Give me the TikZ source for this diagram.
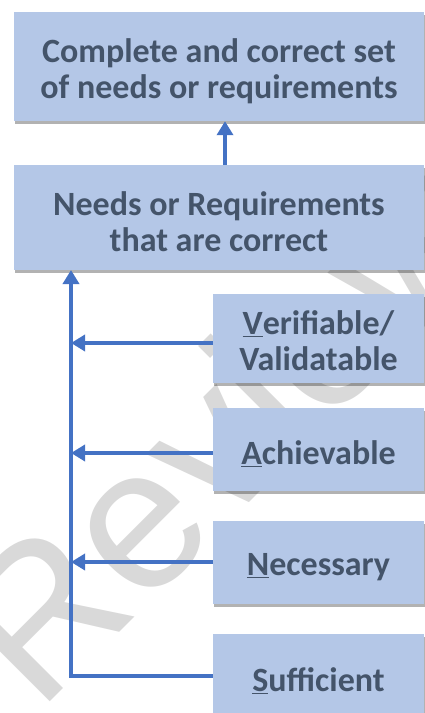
\documentclass[tikz,border=0pt]{standalone}
\usepackage{fontspec}
\setmainfont{Carlito}
\newfontfamily\wmfont{Liberation Sans}
\usetikzlibrary{arrows.meta,shadows}
\definecolor{boxfill}{HTML}{B4C7E7}
\definecolor{boxtext}{HTML}{44546A}
\definecolor{arrowblue}{HTML}{4472C4}
\definecolor{wmgray}{HTML}{D9D9D9}
\begin{document}
\begin{tikzpicture}[x=1pt,y=1pt,
  box/.style={rectangle, fill=boxfill, draw=none, inner sep=0pt,
    drop shadow={shadow xshift=0.8pt, shadow yshift=-3pt, fill=black, opacity=0.3}},
  boxlabel/.style={yshift=-4.5pt, align=center, inner sep=0pt, text=boxtext,
    font=\bfseries\fontsize{34}{36}\selectfont},
  bigbox/.style={box, minimum width=410pt},
  smallbox/.style={box, minimum width=211pt},
  link/.style={draw=arrowblue, line width=4pt, -{Triangle[length=14pt,width=16pt]}}
]
\useasboundingbox (0,0) rectangle (425,-713);
\clip (0,0) rectangle (425,-713);
\node[text=wmgray, rotate=45, inner sep=0pt, font=\wmfont\fontsize{202}{202}\selectfont] (wm) at (222,-428) {Review};

\node[bigbox, minimum height=109pt,
  label={[boxlabel]center:{Complete and correct set\\of needs or requirements}}] (b1) at (219,-66.5) {};
\node[bigbox, minimum height=105pt,
  label={[boxlabel]center:{Needs or Requirements\\that are correct}}] (b2) at (219,-217.5) {};
\node[smallbox, minimum height=89pt,
  label={[boxlabel,yshift=2pt]center:{\underline{V}erifiable/\\Validatable}}] (v) at (318.5,-338.5) {};
\node[smallbox, minimum height=83pt,
  label={[boxlabel]center:{\underline{A}chievable}}] (a) at (318.5,-449.5) {};
\node[smallbox, minimum height=83pt,
  label={[boxlabel]center:{\underline{N}ecessary}}] (n) at (318.5,-562.5) {};
\node[smallbox, minimum height=84pt,
  label={[boxlabel]center:{\underline{S}ufficient}}] (s) at (318.5,-676) {};

\coordinate (top) at ([xshift=6pt]b2.north);
\coordinate (topend) at ([xshift=6pt]b1.south);
\draw[link] (top) -- (topend);

\coordinate (spinetop) at (71,-270);
\coordinate (spinebot) at (71,-676);
\draw[link] (s.west) -- (spinebot) -- (spinetop);
\coordinate (sv) at (71,-343);
\coordinate (sa) at (71,-453);
\coordinate (sn) at (71,-562);
\draw[link] (v.west |- sv) -- (sv);
\draw[link] (a.west |- sa) -- (sa);
\draw[link] (n.west |- sn) -- (sn);
\end{tikzpicture}
\end{document}
